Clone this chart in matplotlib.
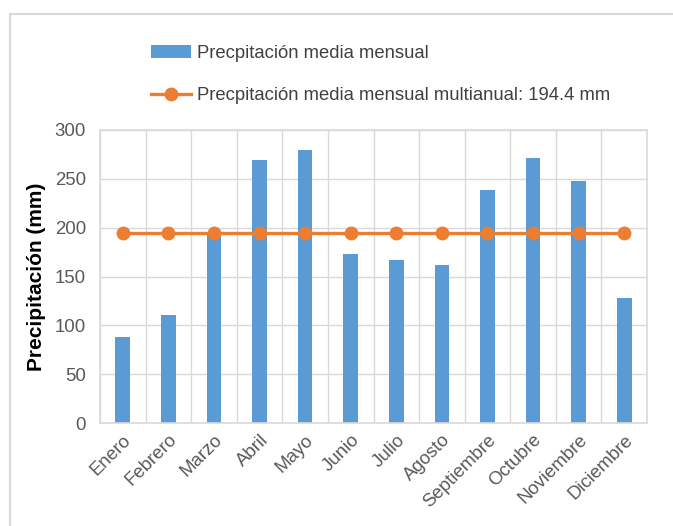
import numpy as np
import matplotlib.pyplot as plt
from matplotlib.patches import Rectangle

meses = ["Enero", "Febrero", "Marzo", "Abril", "Mayo", "Junio", "Julio",
         "Agosto", "Septiembre", "Octubre", "Noviembre", "Diciembre"]
precip = [88, 111, 195, 269, 280, 173, 167, 162, 239, 271, 248, 128]
media_multianual = 194.4
yticks = [0, 50, 100, 150, 200, 250, 300]

plt.rcParams["font.family"] = ["Liberation Sans", "DejaVu Sans"]

fig = plt.figure(figsize=(6.73, 5.26), dpi=100)
fig.patches.append(Rectangle((10 / 673, -0.1), 1.2, 1 - 14 / 526 + 0.1,
                             transform=fig.transFigure, fill=False,
                             edgecolor="#D9D9D9", linewidth=1.5))
ax = fig.add_axes([100 / 673, 1 - 423 / 526, 547 / 673, 293 / 526])

x = np.arange(len(meses))
barras = ax.bar(x, precip, width=0.32, color="#5B9BD5", zorder=2,
                label="Precpitación media mensual")
linea, = ax.plot(x, [media_multianual] * len(meses), color="#ED7D31",
                 linewidth=2.4, marker="o", markersize=9, zorder=3,
                 label="Precpitación media mensual multianual: 194.4 mm")

ax.set_xlim(-0.5, len(meses) - 0.5)
ax.set_ylim(0, 300)
ax.set_yticks(yticks)
ax.set_xticks(x)
ax.set_xticklabels(meses, rotation=45, ha="right", rotation_mode="anchor")
ax.set_xticks(np.arange(-0.5, len(meses), 1), minor=True)
ax.tick_params(axis="both", which="both", length=0, labelsize=13.4,
               labelcolor="#595959")
ax.tick_params(axis="y", pad=10)
ax.tick_params(axis="x", pad=6)
ax.grid(axis="y", color="#D9D9D9", linewidth=1, zorder=0)
ax.grid(axis="x", which="minor", color="#D9D9D9", linewidth=1, zorder=0)
for s in ax.spines.values():
    s.set_color("#D9D9D9")
    s.set_linewidth(1.2)

ax.set_ylabel("Precipitación (mm)", fontsize=15, fontweight="bold",
              color="black", labelpad=6)

fig.legend(handles=[barras, linea], loc="upper left",
           bbox_to_anchor=(144 / 673, 1 - 38 / 526),
           frameon=False, fontsize=13.3, labelcolor="#404040",
           handlelength=2.15, handletextpad=0.3, labelspacing=1.35,
           borderaxespad=0)

fig.savefig("out.png", dpi=100)
